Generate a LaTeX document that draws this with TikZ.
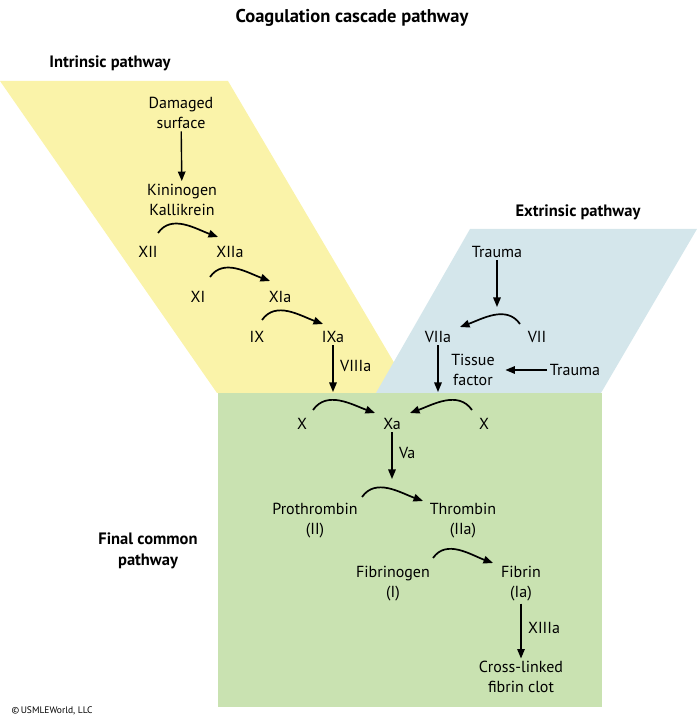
\documentclass[tikz,border=0pt]{standalone}
\usepackage{fontspec}
\setmainfont{PT Sans}
\usetikzlibrary{arrows.meta}
\definecolor{intrin}{RGB}{250,243,169}
\definecolor{extrin}{RGB}{212,230,235}
\definecolor{common}{RGB}{201,226,177}
\tikzset{
	lbl/.style={font=\fontsize{16}{20}\selectfont, align=center, inner sep=2.5pt},
	head/.style={font=\bfseries\fontsize{16.5}{20.5}\selectfont, align=center},
	arr/.style={line width=1.4pt, -{Triangle[length=9.5pt,width=7.5pt]}},
	conv/.style={line width=1.7pt, -{Triangle[length=9.5pt,width=7.5pt]}},
}
\begin{document}
\begin{tikzpicture}[x=1pt,y=1pt]
	\useasboundingbox (0,0) rectangle (700,721);
	%	regions
	\fill[intrin] (0,640) -- (228,640) -- (412,328) -- (217,328) -- cycle;
	\fill[extrin] (470,492) -- (697,492) -- (601,328) -- (376,328) -- cycle;
	\fill[common] (218,328) rectangle (602,14);
	
	\node[head, font=\bfseries\fontsize{18.5}{22}\selectfont] (title) at (352,703) {Coagulation cascade pathway};
	\node[head] (intr) at (110,658) {Intrinsic pathway};
	\node[head] (extr) at (578,509) {Extrinsic pathway};
	\node[head] (final) at (148,170) {Final common\\pathway};
	\node[anchor=west, font=\fontsize{9.5}{11}\selectfont] (copy) at (8,10) {\textcopyright\,USMLEWorld, LLC};
	
	%	intrinsic
	\node[lbl] (dam) at (181,608) {Damaged\\surface};
	\node[lbl] (kin) at (182,521.5) {Kininogen\\Kallikrein};
	\node[lbl] (xii) at (148,469) {XII};
	\node[lbl] (xiia) at (230,469) {XIIa};
	\node[lbl] (xi) at (198,424) {XI};
	\node[lbl] (xia) at (280,424) {XIa};
	\node[lbl] (ix) at (257,384) {IX};
	\node[lbl] (ixa) at (333,384) {IXa};
	\coordinate (ixaend) at (ixa |- 0,329);
	
	\draw[arr] (dam) -- (kin);
	\draw[conv] ([shift={(10,19)}]xii.center) to[out=55,in=160] ([shift={(-12,15)}]xiia.center);
	\draw[conv] ([shift={(12,20)}]xi.center) to[out=55,in=160] ([shift={(-10,16)}]xia.center);
	\draw[conv] ([shift={(5,17)}]ix.center) to[out=55,in=160] ([shift={(-10,13)}]ixa.center);
	\draw[arr] (ixa) -- (ixaend) node[lbl, right=4pt, pos=0.45] {VIIIa};
	
	%	extrinsic
	\node[lbl] (trauma1) at (497,469) {Trauma};
	\node[lbl] (vii) at (537,384) {VII};
	\node[lbl] (viia) at (438,384) {VIIa};
	\node[lbl] (tissue) at (473,351) {Tissue\\factor};
	\node[lbl] (trauma2) at (575,351) {Trauma};
	\coordinate (t1end) at (trauma1 |- 0,414);
	\coordinate (viiaend) at (viia |- 0,329);
	
	\draw[arr] (trauma1) -- (t1end);
	\draw[conv] ([shift={(-17,13)}]vii.center) to[out=125,in=20] ([shift={(22,10)}]viia.center);
	\draw[arr] (viia) -- (viiaend);
	\draw[arr, shorten >=8pt] (trauma2) -- (tissue);
	
	%	common
	\node[lbl] (xl) at (302,297) {X};
	\node[lbl] (xa) at (392,297) {Xa};
	\node[lbl] (xr) at (484,297) {X};
	\node[lbl] (pro) at (315,200) {Prothrombin\\(II)};
	\node[lbl] (thr) at (463,200) {Thrombin\\(IIa)};
	\node[lbl] (fbg) at (393,137.5) {Fibrinogen\\(I)};
	\node[lbl] (fbn) at (521,137.5) {Fibrin\\(Ia)};
	\node[lbl] (clot) at (521,44) {Cross-linked\\fibrin clot};
	\coordinate (xaend) at (xa |- 0,242);
	
	\draw[conv] ([shift={(11,14)}]xl.center) to[out=55,in=160] ([shift={(-17,11)}]xa.center);
	\draw[conv] ([shift={(-12,14)}]xr.center) to[out=125,in=20] ([shift={(18,11)}]xa.center);
	\draw[arr] (xa) -- (xaend) node[lbl, right=4pt, pos=0.45] {Va};
	\draw[conv] ([shift={(47,24)}]pro.center) to[out=55,in=160] ([shift={(-40,20)}]thr.center);
	\draw[conv] ([shift={(40,25.5)}]fbg.center) to[out=55,in=160] ([shift={(-28,20.5)}]fbn.center);
	\draw[arr] (fbn) -- (clot) node[lbl, right=4pt, pos=0.45] {XIIIa};
\end{tikzpicture}
\end{document}
